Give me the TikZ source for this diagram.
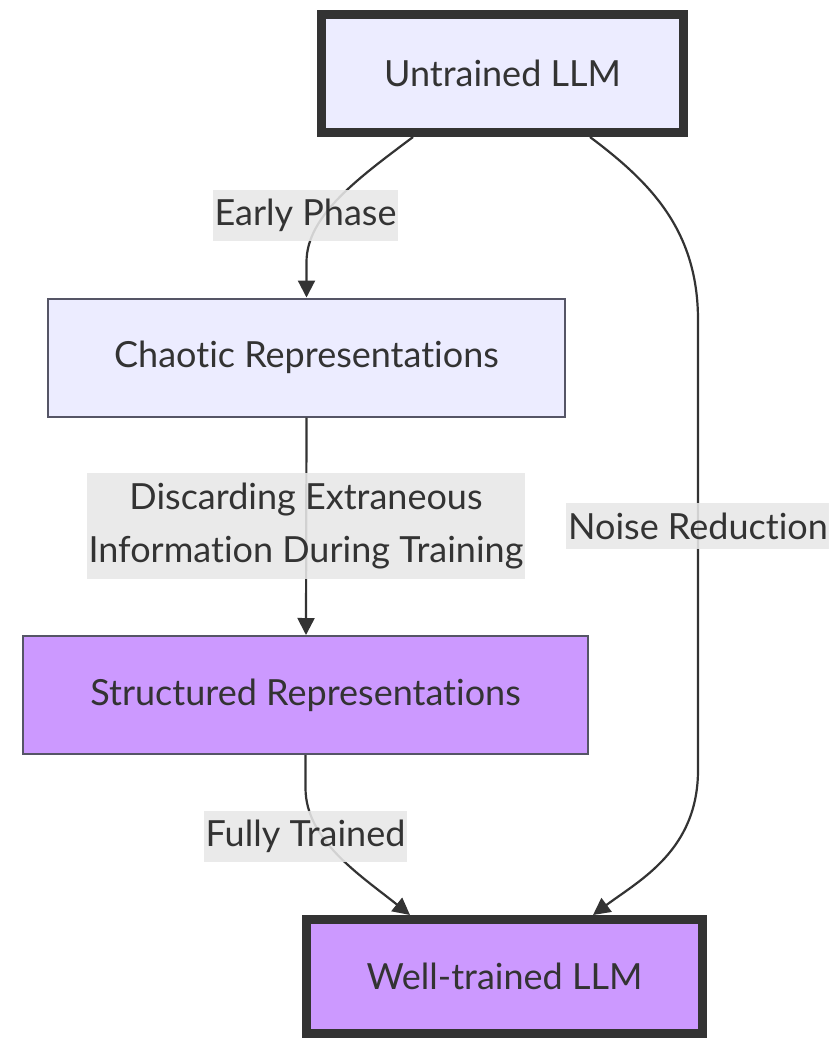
\documentclass[tikz,border=0pt]{standalone}
\usepackage{fontspec}
\setmainfont{Lato}[Ligatures=NoCommon]
\usetikzlibrary{arrows.meta,positioning,calc}
\definecolor{ink}{HTML}{333333}
\definecolor{lav}{HTML}{ECECFF}
\definecolor{grape}{HTML}{CC99FF}
\definecolor{rim}{HTML}{555566}
\definecolor{tag}{HTML}{E8E8E8}

\begin{document}
\begin{tikzpicture}[x=1pt, y=-1pt,
        font=\fontsize{36}{53}\selectfont, text=ink,
        box/.style={draw=rim, line width=2pt, inner sep=0pt, minimum height=118pt},
        endbox/.style={box, draw=ink, line width=9pt},
        flow/.style={draw=ink, line width=2.2pt, -{Triangle[length=17pt,width=17pt]}},
        tagbox/.style={fill=tag, fill opacity=0.88, text opacity=1, inner xsep=2pt, inner ysep=9.5pt, align=center}]
        \fill[white] (0,0) rectangle (828,1039);
        \useasboundingbox (0,0) rectangle (828,1039);

        \node[endbox, fill=lav, minimum width=362pt] (ut) at (502.5,73.5) {Untrained LLM};
        \node[box, fill=lav, minimum width=517pt] (chaos) at (306.5,357.5) {Chaotic Representations};
        \node[box, fill=grape, minimum width=565pt] (order) at (305.5,695) {Structured Representations};
        \node[endbox, fill=grape, minimum width=396pt, minimum height=114pt] (wt) at (504.5,976.5) {Well-trained LLM};

        \draw[flow] ([xshift=-89.5pt]ut.south) .. controls (360,177) and (306.5,215) .. (306.5,262) -- (chaos.north);
        \draw[flow] (chaos.south) -- ([xshift=0.5pt]order.north);
        \draw[flow] (order.south) -- (305.5,788) .. controls (305.5,840) and (360,875) .. ([xshift=-94.5pt]wt.north);
        \draw[flow] ([xshift=87.5pt]ut.south) .. controls (650,182) and (698,230) .. (698,320) -- (698,770) .. controls (698,850) and (640,880) .. ([xshift=88.5pt]wt.north);

        \node[tagbox] (early) at (305.5,215.5) {Early Phase};
        \node[tagbox] (discard) at (306,526) {Discarding Extraneous\\Information During Training};
        \node[tagbox] (fully) at (305.5,836.5) {Fully Trained};
        \node[tagbox] (noise) at (698,526) {Noise Reduction};
      \end{tikzpicture}
\end{document}
